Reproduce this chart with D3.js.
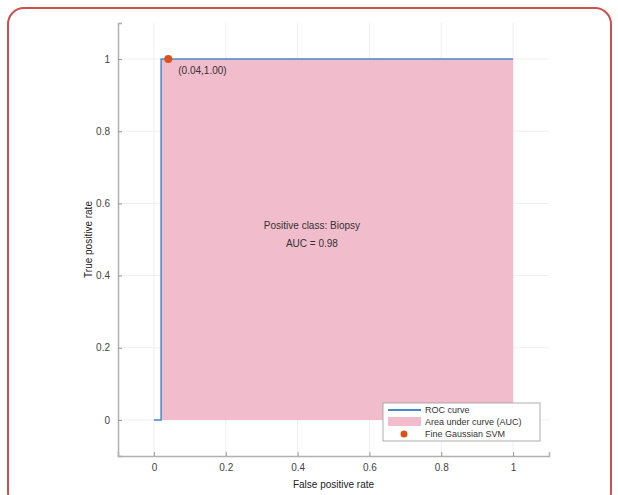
<!DOCTYPE html>
<html>
<head>
<meta charset="utf-8">
<script src="https://cdn.jsdelivr.net/npm/d3@7"></script>
<style>
  body { margin: 0; background: #fff; }
  svg { font-family: "Liberation Sans", Arial, sans-serif; }
</style>
</head>
<body>
<div id="chart"></div>
<script>
// ROC curve points (false positive rate, true positive rate)
const rocFpr = [0, 0.02, 0.02, 1];
const rocTpr = [0, 0, 1, 1];
const opPoint = { fpr: 0.04, tpr: 1.0, label: "(0.04,1.00)" };
const xTicks = [0, 0.2, 0.4, 0.6, 0.8, 1];
const yTicks = [0, 0.2, 0.4, 0.6, 0.8, 1];
const annot = ["Positive class: Biopsy", "AUC = 0.98"];
const legendLabels = ["ROC curve", "Area under curve (AUC)", "Fine Gaussian SVM"];

const W = 618, H = 495;
const plot = { left: 118, right: 549, top: 23, bottom: 456 };

const svg = d3.select("#chart").append("svg")
  .attr("width", W).attr("height", H);

// frame around the figure
svg.append("rect")
  .attr("x", 8).attr("y", 8).attr("width", 603).attr("height", 500)
  .attr("rx", 16).attr("ry", 16)
  .attr("fill", "none").attr("stroke", "#c9514f").attr("stroke-width", 2);

const x = d3.scaleLinear().domain([-0.1, 1.1]).range([plot.left, plot.right]);
const y = d3.scaleLinear().domain([-0.1, 1.1]).range([plot.bottom, plot.top]);

// grid
const grid = svg.append("g").attr("stroke", "#efefef").attr("stroke-width", 1);
grid.selectAll(".gx").data(xTicks).join("line")
  .attr("x1", d => x(d)).attr("x2", d => x(d))
  .attr("y1", plot.top).attr("y2", plot.bottom);
grid.selectAll(".gy").data(yTicks).join("line")
  .attr("x1", plot.left).attr("x2", plot.right)
  .attr("y1", d => y(d)).attr("y2", d => y(d));

const roc = rocFpr.map((f, i) => ({ fpr: f, tpr: rocTpr[i] }));

// area under curve
svg.append("path")
  .datum(roc)
  .attr("fill", "#f1bccb")
  .attr("d", d3.area().x(d => x(d.fpr)).y0(y(0)).y1(d => y(d.tpr)));

// roc curve
svg.append("path")
  .datum(roc)
  .attr("fill", "none")
  .attr("stroke", "#4a88cc")
  .attr("stroke-width", 1.5)
  .attr("d", d3.line().x(d => x(d.fpr)).y(d => y(d.tpr)));

// operating point
svg.append("circle")
  .attr("cx", x(opPoint.fpr)).attr("cy", y(opPoint.tpr)).attr("r", 4)
  .attr("fill", "#d95319");
svg.append("text")
  .attr("x", x(opPoint.fpr) + 10).attr("y", y(opPoint.tpr) + 15)
  .attr("font-size", 10).attr("fill", "#333")
  .text(opPoint.label);

// annotation
svg.append("g").selectAll("text").data(annot).join("text")
  .attr("x", x(0.44)).attr("y", (d, i) => y(0.53) + i * 18)
  .attr("text-anchor", "middle").attr("font-size", 10).attr("fill", "#333")
  .text(d => d);

// axes
const xAxis = svg.append("g")
  .attr("transform", `translate(0,${plot.bottom})`)
  .call(d3.axisBottom(x).tickValues(xTicks).tickFormat(d3.format("~g")).tickSize(-4).tickPadding(8));
const yAxis = svg.append("g")
  .attr("transform", `translate(${plot.left},0)`)
  .call(d3.axisLeft(y).tickValues(yTicks).tickFormat(d3.format("~g")).tickSize(-4).tickPadding(8));
[xAxis, yAxis].forEach(a => {
  a.select(".domain").attr("stroke", "#b0b0b0").attr("stroke-width", 1.5);
  a.selectAll(".tick line").attr("stroke", "#999");
  a.selectAll(".tick text").attr("font-size", 10).attr("fill", "#444");
});

svg.append("text")
  .attr("x", x(0.5)).attr("y", 488)
  .attr("text-anchor", "middle").attr("font-size", 10).attr("fill", "#222")
  .text("False positive rate");
svg.append("text")
  .attr("transform", `translate(92,${y(0.5)}) rotate(-90)`)
  .attr("text-anchor", "middle").attr("font-size", 10).attr("fill", "#222")
  .text("True positive rate");

// legend
const lg = svg.append("g").attr("transform", "translate(383,403)");
lg.append("rect").attr("width", 157).attr("height", 38)
  .attr("fill", "#fff").attr("stroke", "#999").attr("stroke-width", 0.8);
lg.append("line").attr("x1", 5).attr("x2", 38).attr("y1", 7).attr("y2", 7)
  .attr("stroke", "#4a88cc").attr("stroke-width", 2);
lg.append("rect").attr("x", 5).attr("y", 14).attr("width", 33).attr("height", 9)
  .attr("fill", "#f1bccb");
lg.append("circle").attr("cx", 21).attr("cy", 31).attr("r", 3.5).attr("fill", "#d95319");
lg.selectAll(".lt").data(legendLabels).join("text")
  .attr("x", 42).attr("y", (d, i) => 10 + i * 12)
  .attr("font-size", 9).attr("fill", "#333")
  .text(d => d);
</script>
</body>
</html>
